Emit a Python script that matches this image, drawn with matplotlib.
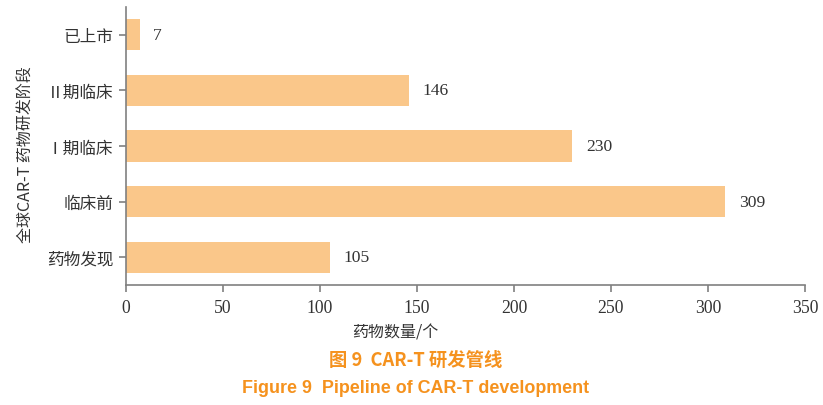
import matplotlib
matplotlib.use("Agg")
import matplotlib.pyplot as plt

categories = ["药物发现", "临床前", "Ⅰ期临床", "Ⅱ期临床", "已上市"]
values = [105, 309, 230, 146, 7]
xticks = [0, 50, 100, 150, 200, 250, 300, 350]

cjk = ["Noto Sans CJK SC", "DejaVu Sans"]
serif = ["Liberation Serif", "Noto Sans CJK SC"]
tc = "#333333"
spine_c = "#808080"
orange = "#F5921E"

fig = plt.figure(figsize=(8.23, 4.06), dpi=100)
ax = fig.add_axes([126/823, 1-286/406, (805-126)/823, (286-8)/406])

ypos = list(range(len(categories)))
ax.barh(ypos, values, height=0.56, color="#FAC78A")
ax.set_ylim(-0.5, 4.5)
ax.set_xlim(0, 350)
ax.set_xticks(xticks)
ax.set_xticklabels([str(t) for t in xticks], fontfamily=serif, fontsize=12.7, color=tc)
ax.set_yticks(ypos)
ax.set_yticklabels(categories, fontfamily=cjk, fontsize=12, color=tc)

for y, v in zip(ypos, values):
    ax.text(v + 7, y, str(v), va="center", ha="left", fontfamily=serif, fontsize=12.6, color=tc)

for s in ["top", "right"]:
    ax.spines[s].set_visible(False)
for s in ["left", "bottom"]:
    ax.spines[s].set_color(spine_c)
    ax.spines[s].set_linewidth(1.2)
ax.tick_params(axis="both", direction="out", length=5, width=1.2, color=spine_c)
ax.tick_params(axis="x", pad=5)
ax.tick_params(axis="y", pad=4)

fig.text(395/823, 1-333/406, "药物数量/个", ha="center", va="center", fontfamily=cjk, fontsize=11.5, color=tc)
fig.text(26/823, 1-155/406, "全球CAR-T 药物研发阶段", ha="center", va="center", rotation=90,
         fontfamily=cjk, fontsize=11.5, color=tc)
fig.text(416/823, 1-360/406, "图 9  CAR-T 研发管线", ha="center", va="center", fontfamily=cjk,
         fontsize=13.2, fontweight="bold", color=orange)
fig.text(416/823, 1-389/406, "Figure 9  Pipeline of CAR-T development", ha="center", va="center",
         fontfamily=["Liberation Sans", "DejaVu Sans"], fontsize=12.9, fontweight="bold", color=orange)

fig.savefig("out.png", dpi=100)
